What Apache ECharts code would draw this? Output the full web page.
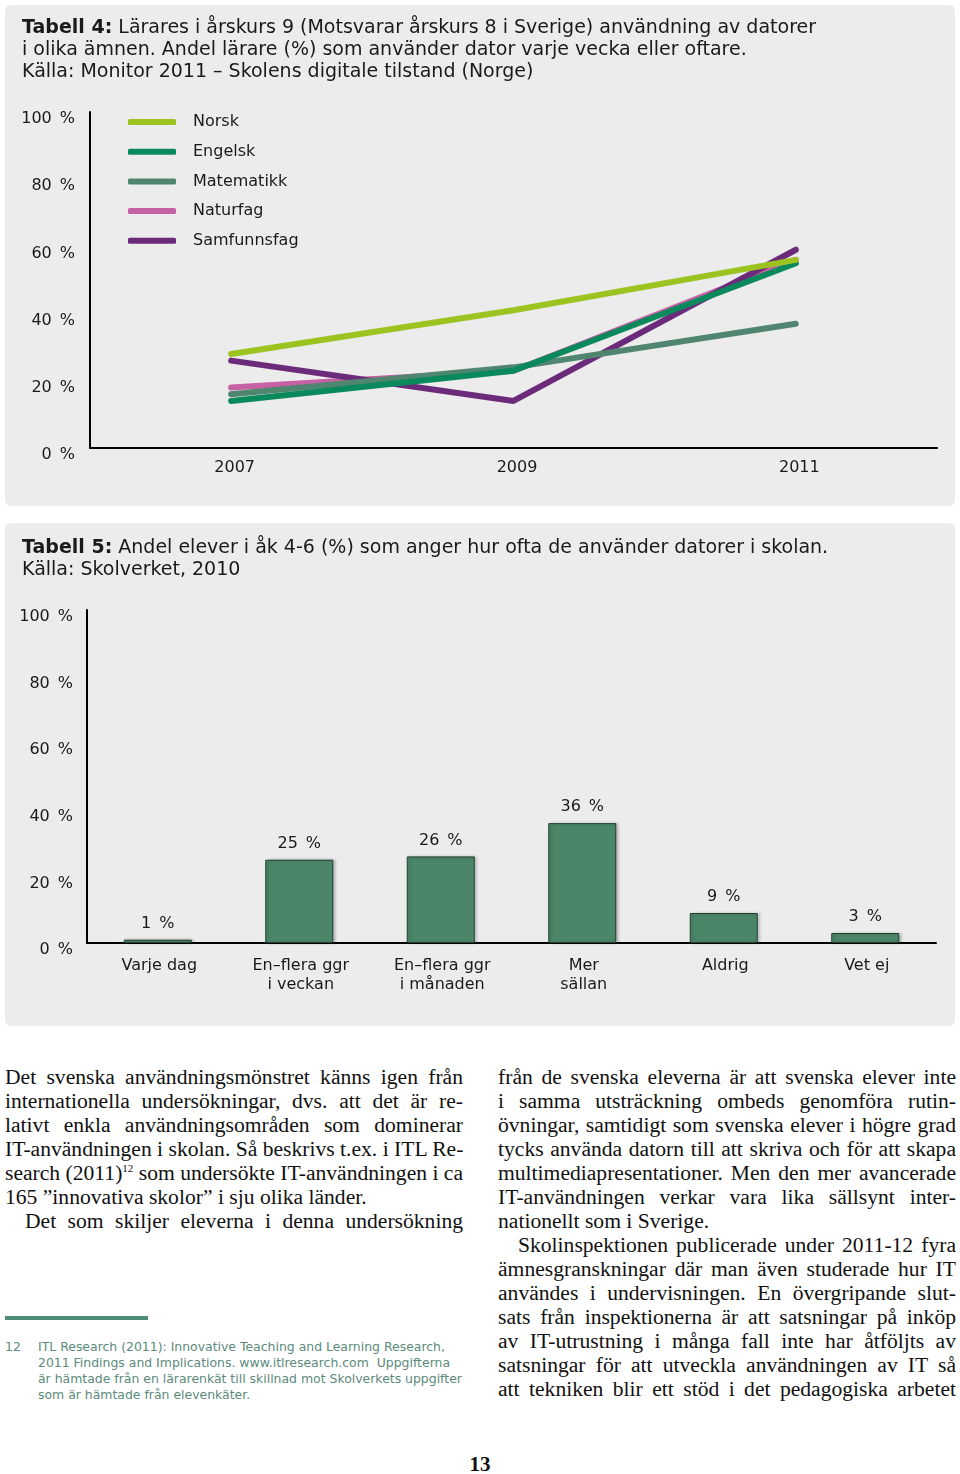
<!DOCTYPE html>
<html>
<head>
<meta charset="utf-8">
<script src="https://cdn.jsdelivr.net/npm/echarts@6/dist/echarts.min.js"></script>
<style>
  html, body { margin: 0; padding: 0; background: #ffffff; }
  #page { position: relative; width: 960px; height: 1474px; overflow: hidden; }
  #chart { position: absolute; left: 0; top: 0; width: 960px; height: 1040px; }
  .col { position: absolute; font-family: "Liberation Serif", "DejaVu Serif", serif; font-size: 21.6px; color: #111; }
  .ln { height: 24px; line-height: 24px; white-space: nowrap; text-align: justify; text-align-last: justify; }
  .ln.last { text-align-last: left; }
  .ind { padding-left: 20px; }
  sup { font-size: 11px; line-height: 0; vertical-align: 8px; }
  .fn { position: absolute; font-family: "DejaVu Sans", sans-serif; font-size: 12.45px; color: #5b8a7b; }
  .fn div { height: 16px; line-height: 16px; white-space: nowrap; }
</style>
</head>
<body>
<div id="page">
  <div id="chart"></div>

  <div class="col" style="left:5px; top:1065px; width:458px;">
    <div class="ln">Det svenska användningsmönstret känns igen från</div>
    <div class="ln">internationella undersökningar, dvs. att det är re-</div>
    <div class="ln">lativt enkla användningsområden som dominerar</div>
    <div class="ln">IT-användningen i skolan. Så beskrivs t.ex. i ITL Re-</div>
    <div class="ln">search (2011)<sup>12</sup> som undersökte IT-användningen i ca</div>
    <div class="ln last">165 ”innovativa skolor” i sju olika länder.</div>
    <div class="ln ind">Det som skiljer eleverna i denna undersökning</div>
  </div>

  <div class="col" style="left:498px; top:1065px; width:458px;">
    <div class="ln">från de svenska eleverna är att svenska elever inte</div>
    <div class="ln">i samma utsträckning ombeds genomföra rutin-</div>
    <div class="ln">övningar, samtidigt som svenska elever i högre grad</div>
    <div class="ln">tycks använda datorn till att skriva och för att skapa</div>
    <div class="ln">multimediapresentationer. Men den mer avancerade</div>
    <div class="ln">IT-användningen verkar vara lika sällsynt inter-</div>
    <div class="ln last">nationellt som i Sverige.</div>
    <div class="ln ind">Skolinspektionen publicerade under 2011-12 fyra</div>
    <div class="ln">ämnesgranskningar där man även studerade hur IT</div>
    <div class="ln">användes i undervisningen. En övergripande slut-</div>
    <div class="ln">sats från inspektionerna är att satsningar på inköp</div>
    <div class="ln">av IT-utrustning i många fall inte har åtföljts av</div>
    <div class="ln">satsningar för att utveckla användningen av IT så</div>
    <div class="ln">att tekniken blir ett stöd i det pedagogiska arbetet</div>
  </div>

  <div style="position:absolute; left:5px; top:1316px; width:143px; height:4px; background:#4f8a72;"></div>
  <div class="fn" style="left:5px; top:1339px;"><div>12</div></div>
  <div class="fn" style="left:38px; top:1339px;">
    <div>ITL Research (2011): Innovative Teaching and Learning Research,</div>
    <div>2011 Findings and Implications. www.itlresearch.com&nbsp; Uppgifterna</div>
    <div>är hämtade från en lärarenkät till skillnad mot Skolverkets uppgifter</div>
    <div>som är hämtade från elevenkäter.</div>
  </div>

  <div style="position:absolute; left:0; width:960px; top:1452px; text-align:center; font-family:'Liberation Serif', serif; font-weight:bold; font-size:21px; color:#111;">13</div>
</div>

<script>
// ---- Data: Tabell 4 ----
const years = ['2007', '2009', '2011'];
const norsk = [28, 41, 56];
const engelsk = [14, 23, 55];
const matematikk = [16, 24, 37];
const naturfag = [18, 23, 56];
const samfunnsfag = [26, 14, 59];

// ---- Data: Tabell 5 ----
const freqCategories = ['Varje dag', 'En–flera ggr\ni veckan', 'En–flera ggr\ni månaden', 'Mer\nsällan', 'Aldrig', 'Vet ej'];
const freqValues = [1, 25, 26, 36, 9, 3];

const title4 = '{b|Tabell 4:} Lärares i årskurs 9 (Motsvarar årskurs 8 i Sverige) användning av datorer\ni olika ämnen. Andel lärare (%) som använder dator varje vecka eller oftare.\nKälla: Monitor 2011 – Skolens digitale tilstand (Norge)';
const title5 = '{b|Tabell 5:} Andel elever i åk 4-6 (%) som anger hur ofta de använder datorer i skolan.\nKälla: Skolverket, 2010';

const FONT = '"DejaVu Sans", Verdana, sans-serif';
const PCT = '\u2002%';
const colors = {
  norsk: '#9cc420',
  engelsk: '#0a8a5c',
  matematikk: '#50866f',
  naturfag: '#c662a4',
  samfunnsfag: '#6c2b7a'
};

const chart = echarts.init(document.getElementById('chart'), null, { renderer: 'canvas' });

function lineSeries(name, data, color, z) {
  return {
    name: name, type: 'line', xAxisIndex: 0, yAxisIndex: 0,
    data: data, showSymbol: false, symbol: 'none', z: z,
    lineStyle: { color: color, width: 6, cap: 'round', join: 'round' },
    itemStyle: { color: color },
    emphasis: { disabled: true }, silent: true, animation: false
  };
}

const titleRich = { b: { fontWeight: 'bold', fontSize: 19, fontFamily: FONT, fill: '#1a1a1a', lineHeight: 22 } };

const option = {
  animation: false,
  textStyle: { fontFamily: FONT },
  graphic: [
    { type: 'rect', z: -10, shape: { x: 5, y: 5, width: 950, height: 501, r: 6 }, style: { fill: '#ececec' }, silent: true },
    { type: 'rect', z: -10, shape: { x: 5, y: 523, width: 950, height: 503, r: 6 }, style: { fill: '#ececec' }, silent: true },
    { type: 'text', left: 22, top: 17, silent: true,
      style: { text: title4, font: '19px ' + FONT, fill: '#1a1a1a', lineHeight: 22, rich: titleRich } },
    { type: 'text', left: 22, top: 537, silent: true,
      style: { text: title5, font: '19px ' + FONT, fill: '#1a1a1a', lineHeight: 22, rich: titleRich } }
  ],
  legend: {
    orient: 'vertical', left: 128, top: 114, padding: 0,
    itemWidth: 48, itemHeight: 6, itemGap: 13.7, icon: 'roundRect',
    data: ['Norsk', 'Engelsk', 'Matematikk', 'Naturfag', 'Samfunnsfag'],
    textStyle: { fontSize: 16, fontFamily: FONT, color: '#1a1a1a', padding: [0, 0, 0, 12], lineHeight: 16 },
    selectedMode: false
  },
  grid: [
    { left: 90, top: 112, width: 847, height: 336 },
    { left: 87, top: 610, width: 849, height: 333 }
  ],
  xAxis: [
    { type: 'category', gridIndex: 0, data: years, boundaryGap: true,
      axisLine: { lineStyle: { color: '#000', width: 2 } }, axisTick: { show: false },
      axisLabel: { color: '#1a1a1a', fontSize: 16, fontFamily: FONT, margin: 12, padding: [0, 0, 0, 7] },
      splitLine: { show: false } },
    { type: 'category', gridIndex: 1, data: freqCategories, boundaryGap: true,
      axisLine: { lineStyle: { color: '#000', width: 2 } }, axisTick: { show: false },
      axisLabel: { color: '#1a1a1a', fontSize: 16, fontFamily: FONT, margin: 13, lineHeight: 19, interval: 0, padding: [0, 0, 0, 3] },
      splitLine: { show: false } }
  ],
  yAxis: [
    { type: 'value', gridIndex: 0, min: 0, max: 100, interval: 20,
      axisLine: { show: true, lineStyle: { color: '#000', width: 2 } }, axisTick: { show: false },
      splitLine: { show: false },
      axisLabel: { formatter: function (v) { return v + PCT; }, color: '#1a1a1a', fontSize: 16, fontFamily: FONT, margin: 15, verticalAlign: 'top', lineHeight: 14 } },
    { type: 'value', gridIndex: 1, min: 0, max: 100, interval: 20,
      axisLine: { show: true, lineStyle: { color: '#000', width: 2 } }, axisTick: { show: false },
      splitLine: { show: false },
      axisLabel: { formatter: function (v) { return v + PCT; }, color: '#1a1a1a', fontSize: 16, fontFamily: FONT, margin: 14, verticalAlign: 'top', lineHeight: 14 } }
  ],
  series: [
    lineSeries('Norsk', norsk, colors.norsk, 6),
    lineSeries('Engelsk', engelsk, colors.engelsk, 5),
    lineSeries('Matematikk', matematikk, colors.matematikk, 4),
    lineSeries('Naturfag', naturfag, colors.naturfag, 2),
    lineSeries('Samfunnsfag', samfunnsfag, colors.samfunnsfag, 3),
    {
      name: 'Andel elever', type: 'bar', xAxisIndex: 1, yAxisIndex: 1,
      data: freqValues, barWidth: 68, silent: true,
      itemStyle: { color: '#4b8669', borderColor: '#20402f', borderWidth: 1,
        shadowColor: 'rgba(0,0,0,0.25)', shadowBlur: 3, shadowOffsetX: 2, shadowOffsetY: 0 },
      label: { show: true, position: 'top', distance: 8, formatter: function (p) { return p.value + PCT; },
        color: '#1a1a1a', fontSize: 16, fontFamily: FONT }
    }
  ]
};
chart.setOption(option);
</script>
</body>
</html>
